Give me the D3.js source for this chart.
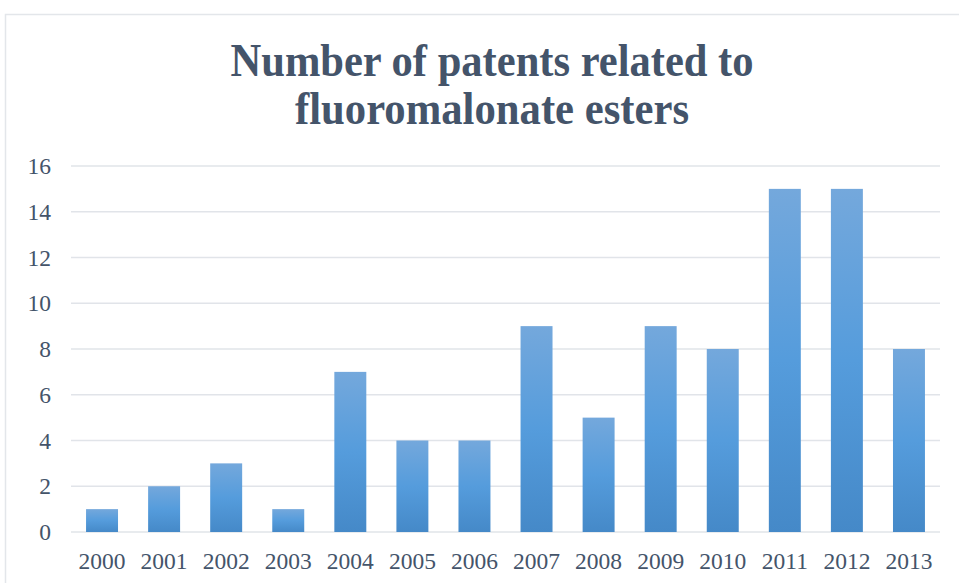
<!DOCTYPE html>
<html>
<head>
<meta charset="utf-8">
<script src="https://cdn.jsdelivr.net/npm/d3@7"></script>
<style>
  body { margin: 0; background: #fff; }
  svg { display: block; }
</style>
</head>
<body>
<div id="chart"></div>
<script>
// chart data
var years = ["2000", "2001", "2002", "2003", "2004", "2005", "2006",
             "2007", "2008", "2009", "2010", "2011", "2012", "2013"];
var patents = [1, 2, 3, 1, 7, 4, 4, 9, 5, 9, 8, 15, 15, 8];
var yTicks = [0, 2, 4, 6, 8, 10, 12, 14, 16];
var titleLines = ["Number of patents related to", "fluoromalonate esters"];

var svgWidth = 959;
var svgHeight = 583;

var margin = { top: 166, right: 19, bottom: 51, left: 71 };
var w = svgWidth - margin.left - margin.right;
var h = svgHeight - margin.top - margin.bottom;

var textColor = "#44546A";
var font = "'Liberation Serif', 'Times New Roman', serif";

var svg = d3.select("#chart")
    .append("svg")
    .attr("width", svgWidth)
    .attr("height", svgHeight);

// outer chart frame
svg.append("rect")
    .attr("x", 5.5)
    .attr("y", 14.5)
    .attr("width", 970)
    .attr("height", 600)
    .attr("fill", "none")
    .attr("stroke", "#E3E6EA")
    .attr("stroke-width", 1.5);

// bar gradient, lighter at the top
var grad = svg.append("defs").append("linearGradient")
    .attr("id", "barGrad")
    .attr("x1", 0).attr("y1", 0)
    .attr("x2", 0).attr("y2", 1);
grad.append("stop").attr("offset", "0%").attr("stop-color", "#74A8DC");
grad.append("stop").attr("offset", "50%").attr("stop-color", "#559CDC");
grad.append("stop").attr("offset", "100%").attr("stop-color", "#4589C8");

// title (the original is a bit narrow, so squeeze each line to its width)
var titleWidths = [523, 394];
svg.append("g")
    .selectAll("text")
    .data(titleLines)
    .enter()
    .append("text")
    .attr("x", 492)
    .attr("y", (d, i) => 76 + i * 48)
    .attr("text-anchor", "middle")
    .attr("font-family", font)
    .attr("font-weight", "bold")
    .attr("font-size", "46px")
    .attr("fill", textColor)
    .attr("textLength", (d, i) => titleWidths[i])
    .attr("lengthAdjust", "spacingAndGlyphs")
    .text(d => d);

var chartGroup = svg.append("g")
    .attr("transform", `translate(${margin.left}, ${margin.top})`);

var xBandScale = d3.scaleBand()
    .domain(years)
    .range([0, w])
    .paddingInner(0.485)
    .paddingOuter(0.2425);

var yLinearScale = d3.scaleLinear()
    .domain([0, 16])
    .range([h, 0]);

// gridlines
chartGroup.append("g")
    .selectAll("line")
    .data(yTicks)
    .enter()
    .append("line")
    .attr("x1", 0)
    .attr("x2", w)
    .attr("y1", d => yLinearScale(d))
    .attr("y2", d => yLinearScale(d))
    .attr("stroke", "#E1E4E9")
    .attr("stroke-width", 1.5);

// y axis labels
var leftAxis = d3.axisLeft(yLinearScale)
    .tickValues(yTicks)
    .tickSize(0)
    .tickPadding(20);
var yAxisG = chartGroup.append("g").call(leftAxis);
yAxisG.select(".domain").remove();
yAxisG.selectAll("text")
    .attr("font-family", font)
    .attr("font-size", "23.5px")
    .attr("fill", textColor);

// x axis labels
var bottomAxis = d3.axisBottom(xBandScale)
    .tickSize(0)
    .tickPadding(20);
var xAxisG = chartGroup.append("g")
    .attr("transform", `translate(0, ${h})`)
    .call(bottomAxis);
xAxisG.select(".domain").remove();
xAxisG.selectAll("text")
    .attr("font-family", font)
    .attr("font-size", "23.5px")
    .attr("fill", textColor);

// bars
chartGroup.selectAll("rect.bar")
    .data(patents)
    .enter()
    .append("rect")
    .attr("class", "bar")
    .attr("x", (d, i) => xBandScale(years[i]))
    .attr("y", d => yLinearScale(d))
    .attr("width", xBandScale.bandwidth())
    .attr("height", d => h - yLinearScale(d))
    .attr("fill", "url(#barGrad)");
</script>
</body>
</html>
